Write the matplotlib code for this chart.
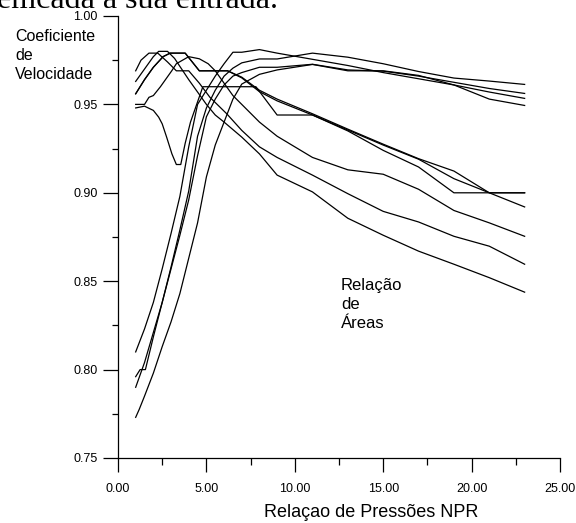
import matplotlib
matplotlib.use("Agg")
import matplotlib.pyplot as plt
from matplotlib.ticker import MultipleLocator, FormatStrFormatter

plt.rcParams['font.family'] = ['Liberation Sans', 'DejaVu Sans']

# ---------- data ----------
# family A: curves starting high at NPR=1, peaking early and falling
a1_x = [1, 1.3, 1.75, 2.25, 2.8, 3.3, 4.0, 4.6, 5.2, 6.15, 7, 8, 9, 11, 13, 15, 17, 19, 21, 23]
a1_y = [0.969, 0.975, 0.979, 0.979, 0.974, 0.969, 0.969, 0.962, 0.954, 0.9447, 0.9353, 0.926,
        0.920, 0.910, 0.8995, 0.8895, 0.8835, 0.8754, 0.8698, 0.8596]

a2_x = [1, 1.5, 2, 2.3, 2.8, 3.2, 3.6, 4, 4.5, 5, 5.5, 6, 7, 8, 9, 11, 13, 15, 17, 19, 21, 23]
a2_y = [0.963, 0.970, 0.977, 0.980, 0.980, 0.976, 0.970, 0.964, 0.957, 0.950, 0.944, 0.940,
        0.9315, 0.922, 0.910, 0.9005, 0.8856, 0.876, 0.867, 0.8596, 0.852, 0.8438]

a3_x = [1, 1.5, 2, 2.55, 2.95, 3.8, 4.2, 4.6, 6.2, 7, 8, 9, 11, 13, 15, 17, 19, 21, 23]
a3_y = [0.956, 0.964, 0.971, 0.977, 0.979, 0.979, 0.974, 0.969, 0.969, 0.9654, 0.958, 0.953,
        0.9447, 0.936, 0.9275, 0.9193, 0.9123, 0.900, 0.900]

a4_x = [1, 1.5, 1.75, 2, 2.4, 3.04, 3.3, 4.0, 4.6, 5.1, 5.5, 6, 6.5, 7, 8, 9, 11, 13, 15, 17,
        19, 21, 23]
a4_y = [0.950, 0.950, 0.954, 0.955, 0.960, 0.969, 0.973, 0.977, 0.9758, 0.973, 0.969, 0.962,
        0.955, 0.950, 0.940, 0.932, 0.920, 0.913, 0.9105, 0.902, 0.890, 0.883, 0.8754]

a5_x = [1, 1.5, 2, 2.3, 2.5, 2.75, 3.05, 3.3, 3.55, 3.8, 4.1, 4.45, 4.8, 7.8, 9, 11, 13, 15, 17, 19, 21, 23]
a5_y = [0.948, 0.949, 0.9466, 0.9428, 0.939, 0.9315, 0.922, 0.916, 0.916, 0.928, 0.940, 0.950,
        0.960, 0.960, 0.944, 0.944, 0.935, 0.924, 0.9146, 0.900, 0.900, 0.900]

a6_x = [1, 1.5, 2, 2.55, 2.95, 3.8, 4.2, 4.6, 6.2, 7, 8, 9, 11, 13, 15, 17, 19, 21, 23]
a6_y = [0.956, 0.964, 0.971, 0.977, 0.979, 0.979, 0.974, 0.969, 0.969, 0.9650, 0.9572, 0.952,
        0.944, 0.9355, 0.927, 0.919, 0.908, 0.900, 0.892]

# family B: curves starting low, rising steeply, slow decline
b1_x = [1, 1.5, 2, 2.5, 3, 3.5, 4, 4.5, 5, 5.5, 6, 6.5, 7, 8, 9, 11, 13, 15, 17, 19, 21, 23]
b1_y = [0.810, 0.823, 0.838, 0.857, 0.877, 0.898, 0.926, 0.950, 0.958, 0.966, 0.973, 0.9795,
        0.9795, 0.981, 0.979, 0.9755, 0.972, 0.968, 0.9645, 0.961, 0.957, 0.9534]

b2_x = [1, 1.25, 1.55, 2, 2.5, 3, 3.5, 4, 4.5, 5, 5.5, 6, 6.5, 7, 8, 9, 11, 13, 15, 17, 19, 21, 23]
b2_y = [0.796, 0.800, 0.800, 0.8185, 0.838, 0.858, 0.879, 0.901, 0.932, 0.948, 0.958, 0.966,
        0.9705, 0.9735, 0.9757, 0.9757, 0.979, 0.9767, 0.973, 0.9686, 0.9649, 0.9632, 0.9613]

b3_x = [1, 1.5, 2, 2.5, 3, 3.5, 4, 4.5, 5, 5.5, 6, 6.5, 7, 8, 9, 11, 13, 15, 17, 19, 21, 23]
b3_y = [0.790, 0.804, 0.821, 0.838, 0.857, 0.876, 0.896, 0.921, 0.943, 0.953, 0.961, 0.966,
        0.968, 0.971, 0.971, 0.9727, 0.9695, 0.9688, 0.966, 0.9625, 0.959, 0.9562]

b4_x = [1, 1.2, 1.5, 2, 2.5, 3, 3.5, 4, 4.5, 5, 5.5, 6, 6.5, 7, 8, 9, 11, 13, 15, 17, 19, 21, 23]
b4_y = [0.773, 0.7775, 0.785, 0.798, 0.813, 0.827, 0.843, 0.863, 0.883, 0.909, 0.927, 0.940,
        0.953, 0.9615, 0.967, 0.9695, 0.9726, 0.969, 0.969, 0.9664, 0.961, 0.953, 0.9494]

curves = [(a1_x, a1_y), (a2_x, a2_y), (a3_x, a3_y), (a4_x, a4_y), (a5_x, a5_y), (a6_x, a6_y),
          (b1_x, b1_y), (b2_x, b2_y), (b3_x, b3_y), (b4_x, b4_y)]

# ---------- figure ----------
W, H = 576, 523
fig = plt.figure(figsize=(W / 100, H / 100), dpi=100)
ax = fig.add_axes([118 / W, 65 / H, 442 / W, 442 / H])

for xs, ys in curves:
    ax.plot(xs, ys, color="black", lw=0.9)

ax.set_xlim(0, 25)
ax.set_ylim(0.75, 1.00)
for s in ("top", "right"):
    ax.spines[s].set_visible(False)
for s in ("left", "bottom"):
    ax.spines[s].set_linewidth(0.9)

ax.xaxis.set_major_locator(MultipleLocator(5))
ax.xaxis.set_minor_locator(MultipleLocator(2.5))
ax.yaxis.set_major_locator(MultipleLocator(0.05))
ax.yaxis.set_minor_locator(MultipleLocator(0.025))
ax.xaxis.set_major_formatter(FormatStrFormatter("%.2f"))
ax.yaxis.set_major_formatter(FormatStrFormatter("%.2f"))
ax.tick_params(axis="y", which="major", length=10.5, width=0.9, pad=4.3, labelsize=9)
ax.tick_params(axis="y", which="minor", length=4.5, width=0.9)
ax.tick_params(axis="x", which="major", length=10, width=0.9, pad=8, labelsize=9)
ax.tick_params(axis="x", which="minor", length=5, width=0.9)

# ---------- texts ----------
fig.text(15 / W, 1 - 29 / H, "Coeficiente\nde\nVelocidade", ha="left", va="top",
         fontsize=11.5, linespacing=1.35)
fig.text(341 / W, 1 - 278 / H, "Relação\nde\nÁreas", ha="left", va="top",
         fontsize=12, linespacing=1.35)
fig.text(371 / W, 6 / H, "Relaçao de Pressões NPR", ha="center", va="baseline",
         fontsize=13)
# bottom of a document line cut off by the top edge
fig.text(-3 / W, 1 - 8 / H, "emcada a sua entrada.", ha="left", va="baseline",
         fontsize=23, family=["Liberation Serif", "DejaVu Serif"])

fig.savefig("out.png", dpi=100)
